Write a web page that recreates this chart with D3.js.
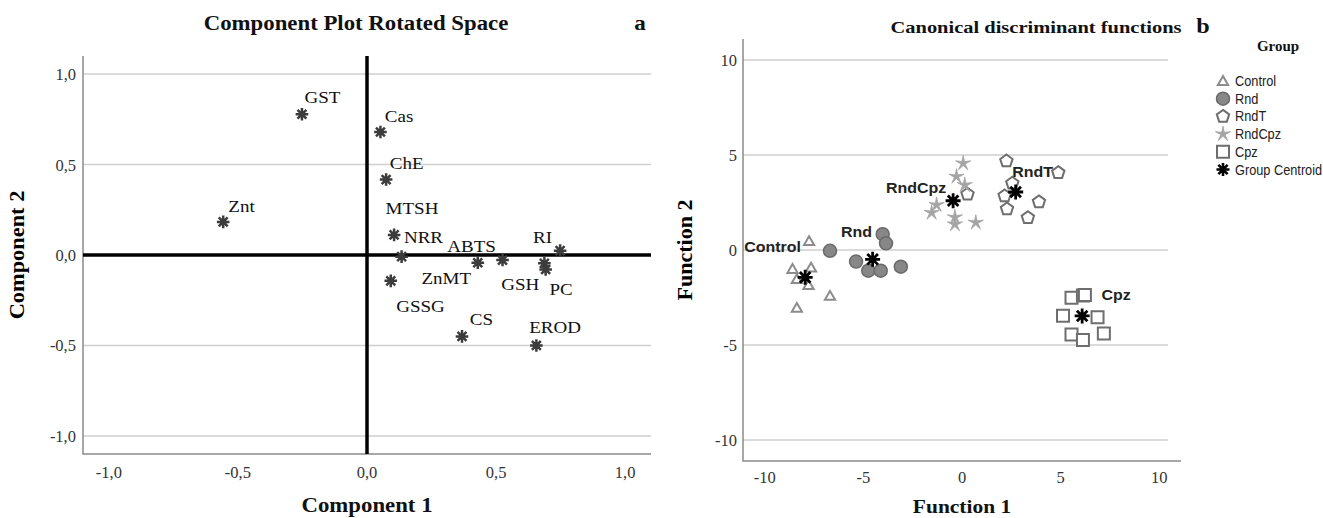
<!DOCTYPE html>
<html>
<head>
<meta charset="utf-8">
<script src="https://cdn.jsdelivr.net/npm/d3@7"></script>
<style>
  body { margin: 0; background: #fff; }
  text { font-family: "Liberation Serif", "Times New Roman", serif; }
</style>
</head>
<body>
<div id="container"></div>
<script>
/* DATA: panel a, rotated component loadings */
const loadNames = ["GST", "Cas", "ChE", "Znt", "MTSH", "NRR", "ABTS", "RI", "ZnMT", "GSH", "PC", "GSSG", "CS", "EROD"];
const comp1 = [-0.252, 0.052, 0.074, -0.557, 0.105, 0.134, 0.429, 0.748, 0.687, 0.525, 0.692, 0.092, 0.368, 0.656];
const comp2 = [0.778, 0.680, 0.417, 0.183, 0.111, -0.009, -0.043, 0.024, -0.046, -0.028, -0.080, -0.143, -0.450, -0.500];
// where each label sits (component units, text start / baseline)
const loadLabelX = [-0.242, 0.069, 0.088, -0.537, 0.072, 0.143, 0.311, 0.643, 0.211, 0.520, 0.707, 0.113, 0.398, 0.628];
const loadLabelY = [0.844, 0.741, 0.483, 0.241, 0.233, 0.072, 0.024, 0.071, -0.157, -0.189, -0.217, -0.311, -0.383, -0.426];
const ticksA = [-1.0, -0.5, 0.0, 0.5, 1.0];

/* DATA: panel b, canonical discriminant scores */
const groups = ["Control", "Rnd", "RndT", "RndCpz", "Cpz"];
const controlF1 = [-7.75, -8.59, -7.65, -8.37, -7.78, -6.69, -8.37];
const controlF2 = [0.47, -1.00, -0.93, -1.53, -1.84, -2.41, -3.04];
const rndF1 = [-6.69, -4.02, -3.85, -5.37, -4.75, -4.12, -3.10];
const rndF2 = [-0.04, 0.83, 0.35, -0.61, -1.09, -1.09, -0.88];
const rndTF1 = [0.28, 2.25, 4.88, 2.55, 2.16, 2.28, 3.90, 3.34];
const rndTF2 = [2.93, 4.68, 4.07, 3.51, 2.84, 2.16, 2.53, 1.70];
const rndCpzF1 = [0.06, -0.28, 0.14, -1.29, -1.54, -0.36, -0.36, 0.70];
const rndCpzF2 = [4.56, 3.86, 3.42, 2.37, 1.96, 1.72, 1.35, 1.44];
const cpzF1 = [5.55, 6.13, 6.23, 5.12, 6.87, 5.55, 6.13, 7.19];
const cpzF2 = [-2.51, -2.40, -2.37, -3.46, -3.54, -4.44, -4.74, -4.39];
const centroidF1 = [-7.95, -4.53, 2.72, -0.45, 6.09];
const centroidF2 = [-1.44, -0.49, 3.05, 2.59, -3.47];
const groupLabelX = [-11.04, -6.13, 2.55, -3.85, 7.07];
const groupLabelY = [-0.10, 0.70, 3.84, 3.00, -2.63];
const ticksB = [-10, -5, 0, 5, 10];
const legendNames = ["Control", "Rnd", "RndT", "RndCpz", "Cpz", "Group Centroid"];

const width = 1323, height = 518;
const SERIF = "'Liberation Serif', 'Times New Roman', serif";
const SANS = "'Liberation Sans', Arial, sans-serif";

const svg = d3.select("#container")
  .append("svg")
  .attr("width", width)
  .attr("height", height);

// text with a horizontal stretch (the source figure is slightly widened)
function stext(g, x, y, str, o) {
  const t = g.append("text")
    .attr("transform", `translate(${x},${y}) scale(${o.sx || 1},1)`)
    .attr("text-anchor", o.anchor || "start")
    .attr("font-size", o.size)
    .attr("font-weight", o.bold ? "bold" : "normal")
    .attr("fill", o.fill || "#111")
    .style("font-family", o.family || SERIF)
    .text(str);
  return t;
}

// asterisk made of n crossing strokes
function asterisk(r, n) {
  let p = "";
  for (let i = 0; i < n; i++) {
    const a = Math.PI * i / n + Math.PI / 2;
    const dx = r * Math.cos(a), dy = r * Math.sin(a);
    p += `M${-dx},${-dy}L${dx},${dy}`;
  }
  return p;
}
function drawAsterisk(g, x, y, r, color, sw) {
  g.append("path").attr("transform", `translate(${x},${y})`)
    .attr("d", asterisk(r, 4)).attr("stroke", color).attr("stroke-width", sw)
    .attr("fill", "none");
  g.append("circle").attr("cx", x).attr("cy", y).attr("r", r * 0.45).attr("fill", color);
}
const fmtA = d => d3.format(".1f")(d).replace(".", ",").replace("−", "-");
const fmtB = d => d3.format("d")(d).replace("−", "-");

/* PANEL A */
const xA = d3.scaleLinear().domain([-1.1, 1.1]).range([83, 651]);
const yA = d3.scaleLinear().domain([-1.1, 1.1]).range([454, 56]);
const gA = svg.append("g");

gA.selectAll(".gridA")
  .data(ticksA.filter(d => d !== 0))
  .enter().append("line")
  .attr("x1", xA.range()[0]).attr("x2", xA.range()[1])
  .attr("y1", d => yA(d)).attr("y2", d => yA(d))
  .attr("stroke", "#cfcfcf").attr("stroke-width", 1.5);

// frame lines (left + bottom)
gA.append("path")
  .attr("d", `M${xA.range()[0]},${yA.range()[1]}V${yA.range()[0]}H${xA.range()[1]}`)
  .attr("stroke", "#8a8a8a").attr("stroke-width", 1.5).attr("fill", "none");

// zero reference lines
gA.append("line").attr("x1", xA(0)).attr("x2", xA(0)).attr("y1", yA.range()[1]).attr("y2", yA.range()[0])
  .attr("stroke", "#000").attr("stroke-width", 3.5);
gA.append("line").attr("x1", xA.range()[0]).attr("x2", xA.range()[1]).attr("y1", yA(0)).attr("y2", yA(0))
  .attr("stroke", "#000").attr("stroke-width", 3.5);

ticksA.forEach(d => {
  stext(gA, 76, yA(d) + 6, fmtA(d), { size: 16.5, anchor: "end", fill: "#333" });
  stext(gA, xA(d), 478, fmtA(d), { size: 16.5, anchor: "middle", fill: "#333" });
});

loadNames.forEach((n, i) => {
  drawAsterisk(gA, xA(comp1[i]), yA(comp2[i]), 6.3, "#3c3c3c", 2.5);
  stext(gA, xA(loadLabelX[i]), yA(loadLabelY[i]) + 1, n, { size: 17, sx: 1.12 });
});

stext(gA, 356, 30, "Component Plot Rotated Space", { size: 20, bold: true, sx: 1.14, anchor: "middle" });
stext(gA, 640, 30, "a", { size: 21, bold: true, sx: 1.1, anchor: "middle" });
stext(gA, xA(0), 512, "Component 1", { size: 20, bold: true, sx: 1.14, anchor: "middle" });
gA.append("text").attr("transform", `translate(24,${yA(0)}) rotate(-90) scale(1.12,1)`)
  .attr("text-anchor", "middle")
  .attr("font-size", 20).attr("font-weight", "bold").text("Component 2");

/* PANEL B */
const xB = d3.scaleLinear().domain([-11.1, 11.1]).range([743, 1181]);
const yB = d3.scaleLinear().domain([-11.1, 11.1]).range([461, 39]);
const gB = svg.append("g");

gB.selectAll(".gridB").data(ticksB).enter().append("line")
  .attr("x1", xB.range()[0]).attr("x2", 1168)
  .attr("y1", d => yB(d)).attr("y2", d => yB(d))
  .attr("stroke", "#cfcfcf").attr("stroke-width", 1.5);
gB.append("path")
  .attr("d", `M${xB.range()[0]},${yB.range()[1]}V${yB.range()[0]}H${xB.range()[1]}`)
  .attr("stroke", "#8a8a8a").attr("stroke-width", 1.5).attr("fill", "none");

ticksB.forEach(d => {
  stext(gB, 737, yB(d) + 6, fmtB(d), { size: 16.5, anchor: "end", fill: "#333" });
  stext(gB, xB(d), 483, fmtB(d), { size: 16.5, anchor: "middle", fill: "#333" });
});

const symTri = d3.symbol().type(d3.symbolTriangle).size(45)();
const symSq = "M-6,-6H6V6H-6Z";
function pentagon(r) {
  const pts = d3.range(5).map(k => {
    const a = -Math.PI / 2 + k * 2 * Math.PI / 5;
    return [r * Math.cos(a), r * Math.sin(a)];
  });
  return "M" + pts.join("L") + "Z";
}
function star5(r, ri) {
  const pts = d3.range(10).map(k => {
    const a = -Math.PI / 2 + k * Math.PI / 5;
    const rr = k % 2 ? ri : r;
    return [rr * Math.cos(a), rr * Math.sin(a)];
  });
  return "M" + pts.join("L") + "Z";
}
const markers = {
  Control: (g, x, y) => g.append("path").attr("transform", `translate(${x},${y + 1})`).attr("d", symTri)
    .attr("fill", "none").attr("stroke", "#8c8c8c").attr("stroke-width", 2),
  Rnd: (g, x, y) => g.append("circle").attr("cx", x).attr("cy", y).attr("r", 6.5)
    .attr("fill", "#878787").attr("stroke", "#6a6a6a").attr("stroke-width", 1.5),
  RndT: (g, x, y) => g.append("path").attr("transform", `translate(${x},${y})`).attr("d", pentagon(6.5))
    .attr("fill", "#fff").attr("stroke", "#6e6e6e").attr("stroke-width", 2),
  RndCpz: (g, x, y) => g.append("path").attr("transform", `translate(${x},${y})`).attr("d", star5(8, 2.2))
    .attr("fill", "#a4a4a4").attr("stroke", "#a4a4a4").attr("stroke-width", 0.8),
  Cpz: (g, x, y) => g.append("path").attr("transform", `translate(${x},${y})`).attr("d", symSq)
    .attr("fill", "#fff").attr("stroke", "#6e6e6e").attr("stroke-width", 2)
};

const groupF1 = [controlF1, rndF1, rndTF1, rndCpzF1, cpzF1];
const groupF2 = [controlF2, rndF2, rndTF2, rndCpzF2, cpzF2];
groups.forEach((grp, gi) => {
  groupF1[gi].forEach((v, i) => markers[grp](gB, xB(v), yB(groupF2[gi][i])));
});
groups.forEach((grp, gi) => {
  drawAsterisk(gB, xB(centroidF1[gi]), yB(centroidF2[gi]), 7.5, "#000", 2.8);
});
groups.forEach((grp, gi) => {
  stext(gB, xB(groupLabelX[gi]), yB(groupLabelY[gi]), grp,
    { size: 14.5, bold: true, sx: 1.1, family: SANS, fill: "#222" });
});

stext(gB, 1036, 33, "Canonical discriminant functions", { size: 17.5, bold: true, sx: 1.17, anchor: "middle" });
stext(gB, 1203, 33, "b", { size: 22, bold: true, sx: 1.1, anchor: "middle" });
stext(gB, xB(0), 513, "Function 1", { size: 19.5, bold: true, sx: 1.1, anchor: "middle" });
gB.append("text").attr("transform", `translate(692,${yB(0)}) rotate(-90) scale(1.1,1)`)
  .attr("text-anchor", "middle")
  .attr("font-size", 20).attr("font-weight", "bold").text("Function 2");

/* LEGEND */
const gL = svg.append("g");
stext(gL, 1278, 51, "Group", { size: 15, bold: true, anchor: "middle" });
legendNames.forEach((n, i) => {
  const y = 81 + i * 17.7;
  if (i < 5) {
    markers[n](gL, 1223, y);
  } else {
    drawAsterisk(gL, 1223, y, 6.5, "#000", 2.6);
  }
  stext(gL, 1235, y + 5, n, { size: 14.5, sx: 0.88, family: SANS, fill: "#222" });
});
</script>
</body>
</html>
